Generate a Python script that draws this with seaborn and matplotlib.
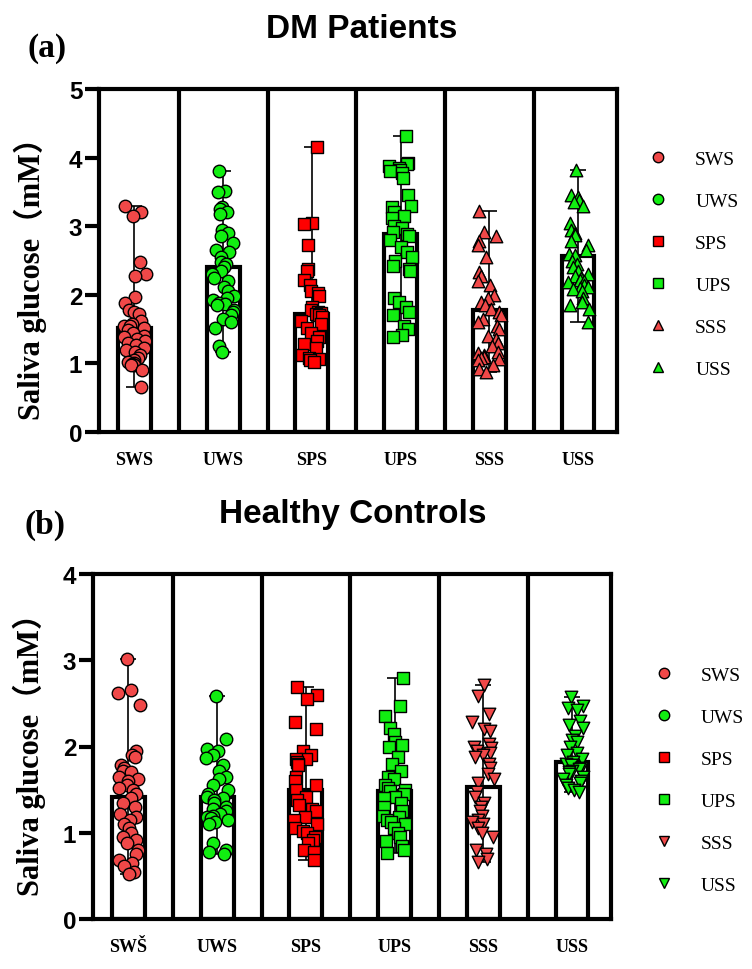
import numpy as np
import pandas as pd
import matplotlib
matplotlib.use("Agg")
import matplotlib.pyplot as plt
from matplotlib.lines import Line2D
import seaborn as sns

groups = ["SWS", "UWS", "SPS", "UPS", "SSS", "USS"]
xlabels_a = ["SWS", "UWS", "SPS", "UPS", "SSS", "USS"]
xlabels_b = ["SWŠ", "UWS", "SPS", "UPS", "SSS", "USS"]

# DM patients, saliva glucose (mM)
dm_sws = [3.30, 3.20, 3.15, 2.48, 2.30, 2.27, 1.97, 1.88, 1.78, 1.75, 1.72, 1.62, 1.58,
          1.55, 1.55, 1.52, 1.48, 1.45, 1.40, 1.38, 1.36, 1.33, 1.30, 1.27, 1.22, 1.20,
          1.17, 1.12, 1.08, 1.05, 1.02, 1.00, 0.99, 0.98, 0.97, 0.90, 0.66]
dm_uws = [3.80, 3.52, 3.50, 3.28, 3.25, 3.20, 3.18, 2.95, 2.90, 2.85, 2.75, 2.65, 2.62,
          2.55, 2.48, 2.45, 2.40, 2.35, 2.30, 2.25, 2.20, 2.12, 2.05, 1.98, 1.95, 1.92,
          1.88, 1.87, 1.85, 1.78, 1.75, 1.70, 1.65, 1.60, 1.52, 1.25, 1.17]
dm_sps = [4.15, 3.05, 3.03, 2.72, 2.38, 2.35, 2.22, 2.15, 2.05, 2.02, 1.98, 1.82, 1.78,
          1.75, 1.73, 1.72, 1.70, 1.68, 1.62, 1.57, 1.52, 1.45, 1.38, 1.32, 1.28, 1.22,
          1.12, 1.08, 1.07, 1.05, 1.02]
dm_ups = [4.32, 3.92, 3.90, 3.88, 3.85, 3.82, 3.80, 3.78, 3.70, 3.45, 3.30, 3.28, 3.20,
          3.15, 3.12, 3.00, 2.98, 2.92, 2.88, 2.85, 2.80, 2.70, 2.62, 2.55, 2.50, 2.42,
          2.38, 2.35, 1.95, 1.90, 1.82, 1.75, 1.70, 1.55, 1.50, 1.42, 1.38]
dm_sss = [3.22, 2.92, 2.85, 2.78, 2.72, 2.55, 2.33, 2.28, 2.20, 2.14, 2.00, 1.95, 1.90,
          1.85, 1.80, 1.75, 1.70, 1.65, 1.60, 1.55, 1.50, 1.40, 1.35, 1.30, 1.26, 1.17,
          1.15, 1.12, 1.10, 1.08, 1.07, 1.05, 0.97, 0.92, 0.87]
dm_uss = [3.82, 3.45, 3.42, 3.38, 3.35, 3.30, 3.05, 2.95, 2.90, 2.87, 2.78, 2.72, 2.65,
          2.60, 2.58, 2.50, 2.45, 2.40, 2.35, 2.30, 2.28, 2.25, 2.22, 2.20, 2.18, 2.15,
          2.12, 2.10, 2.08, 2.05, 1.95, 1.90, 1.85, 1.80, 1.60]
dm_means = [1.52, 2.41, 1.72, 2.88, 1.78, 2.56]

# healthy controls
hc_sws = [3.02, 2.65, 2.62, 2.48, 1.95, 1.90, 1.88, 1.78, 1.75, 1.72, 1.70, 1.65, 1.62,
          1.60, 1.55, 1.52, 1.50, 1.45, 1.40, 1.35, 1.30, 1.22, 1.18, 1.15, 1.10, 1.05,
          1.00, 0.95, 0.92, 0.88, 0.80, 0.75, 0.68, 0.65, 0.62, 0.54, 0.52]
hc_uws = [2.58, 2.09, 1.97, 1.95, 1.90, 1.87, 1.78, 1.72, 1.65, 1.62, 1.55, 1.50, 1.45,
          1.42, 1.40, 1.38, 1.35, 1.30, 1.28, 1.25, 1.22, 1.20, 1.18, 1.17, 1.15, 1.12,
          1.10, 0.88, 0.80, 0.78, 0.75]
hc_sps = [2.69, 2.60, 2.55, 2.28, 2.20, 1.95, 1.90, 1.86, 1.85, 1.82, 1.80, 1.78, 1.65,
          1.60, 1.55, 1.50, 1.42, 1.38, 1.32, 1.28, 1.25, 1.18, 1.15, 1.10, 1.05, 1.02,
          1.00, 0.95, 0.92, 0.88, 0.80, 0.78, 0.68]
hc_ups = [2.79, 2.47, 2.35, 2.22, 2.15, 2.05, 2.02, 2.00, 1.88, 1.80, 1.72, 1.65, 1.62,
          1.55, 1.52, 1.50, 1.48, 1.45, 1.42, 1.40, 1.35, 1.30, 1.25, 1.20, 1.18, 1.15,
          1.12, 1.10, 1.05, 1.00, 0.95, 0.90, 0.85, 0.80, 0.77]
hc_sss = [2.71, 2.59, 2.38, 2.28, 2.20, 2.18, 2.03, 2.00, 1.98, 1.95, 1.92, 1.90, 1.88,
          1.80, 1.75, 1.68, 1.62, 1.58, 1.47, 1.42, 1.35, 1.30, 1.25, 1.20, 1.15, 1.12,
          1.10, 1.05, 1.00, 0.95, 0.80, 0.75, 0.70, 0.66]
hc_uss = [2.57, 2.47, 2.45, 2.42, 2.30, 2.25, 2.22, 2.12, 2.08, 2.05, 2.00, 1.93, 1.90,
          1.85, 1.82, 1.80, 1.78, 1.75, 1.74, 1.72, 1.70, 1.68, 1.65, 1.62, 1.60, 1.58,
          1.55, 1.52, 1.50, 1.47]
hc_means = [1.41, 1.42, 1.50, 1.48, 1.53, 1.82]

light_red = "#F04848"
red = "#FF0000"
green = "#11EE11"
colors = [light_red, green, red, green, light_red, green]
markers_a = ["o", "o", "s", "s", "^", "^"]
markers_b = ["o", "o", "s", "s", "v", "v"]

serif = ["Liberation Serif", "Noto Sans CJK SC"]
sans = "Liberation Sans"

sns.set_style("ticks")
plt.rcParams.update({"text.color": "black", "axes.labelcolor": "black",
                     "xtick.color": "black", "ytick.color": "black"})
np.random.seed(7)


def draw_panel(ax, values, means, markers, xlabels, ymax, legend_anchor):
    df = pd.DataFrame({
        "group": [g for g, v in zip(groups, values) for _ in v],
        "value": [x for v in values for x in v],
    })
    sns.barplot(x=groups, y=means, order=groups, color="white", edgecolor="black",
                linewidth=3, width=0.37, ax=ax, zorder=1)
    mins = np.array([min(v) for v in values])
    maxs = np.array([max(v) for v in values])
    m = np.array(means)
    ax.errorbar(np.arange(len(groups)), m, yerr=[m - mins, maxs - m], fmt="none",
                ecolor="black", elinewidth=1.2, capsize=6, capthick=1.2, zorder=2)
    for g, c, mk in zip(groups, colors, markers):
        sns.stripplot(data=df[df["group"] == g], x="group", y="value", order=groups,
                      color=c, marker=mk, size=9, edgecolor="black", linewidth=1,
                      jitter=0.13, ax=ax, zorder=3)

    ax.set_xlim(-0.4, 5.44)
    ax.set_ylim(0, ymax)
    ax.set_yticks(range(ymax + 1))
    ax.set_xticks(range(len(groups)))
    ax.set_xticklabels(xlabels, family="Liberation Serif", fontweight="bold", fontsize=13)
    ax.set_xticks([0.5, 1.5, 2.5, 3.5, 4.5], minor=True)
    ax.grid(which="minor", axis="x", color="black", linewidth=3)
    ax.tick_params(axis="x", which="both", length=0, pad=14)
    ax.tick_params(axis="y", length=10, width=3, labelsize=17.5, pad=2)
    for lab in ax.get_yticklabels():
        lab.set_family(sans)
        lab.set_fontweight("bold")
    for sp in ax.spines.values():
        sp.set_linewidth(3)
        sp.set_color("black")
    ax.set_xlabel("")
    ax.set_ylabel("Saliva glucose（mM）", family=serif, fontweight="bold", fontsize=22)

    handles = [Line2D([], [], ls="", marker=mk, markerfacecolor=c, markeredgecolor="black",
                      markeredgewidth=1, markersize=7.5)
               for c, mk in zip(colors, markers)]
    ax.legend(handles, groups, loc="upper left", bbox_to_anchor=legend_anchor,
              frameon=False, prop={"family": "Liberation Serif", "size": 14},
              labelspacing=1.25, handletextpad=1.4, handlelength=1.0)


fig = plt.figure(figsize=(7.52, 9.70), dpi=100)
ax1 = fig.add_axes([99 / 752, 1 - 433 / 970, 518 / 752, 343 / 970])
ax2 = fig.add_axes([93 / 752, 1 - 920 / 970, 518 / 752, 345 / 970])

draw_panel(ax1, [dm_sws, dm_uws, dm_sps, dm_ups, dm_sss, dm_uss], dm_means,
           markers_a, xlabels_a, 5, (1.027, 0.872))
draw_panel(ax2, [hc_sws, hc_uws, hc_sps, hc_ups, hc_sss, hc_uss], hc_means,
           markers_b, xlabels_b, 4, (1.05, 0.783))
ax1.yaxis.set_label_coords(-0.10, 0.47)
ax2.yaxis.set_label_coords(-0.09, 0.50)

fig.text(362 / 752, 1 - 30 / 970, "DM Patients", family=sans, fontweight="bold",
         fontsize=24, ha="center", va="center")
fig.text(47 / 752, 1 - 48 / 970, "(a)", family="Liberation Serif", fontweight="bold",
         fontsize=24, ha="center", va="center")
fig.text(353 / 752, 1 - 515 / 970, "Healthy Controls", family=sans, fontweight="bold",
         fontsize=24, ha="center", va="center")
fig.text(45 / 752, 1 - 525 / 970, "(b)", family="Liberation Serif", fontweight="bold",
         fontsize=24, ha="center", va="center")

fig.savefig("out.png", dpi=100)
